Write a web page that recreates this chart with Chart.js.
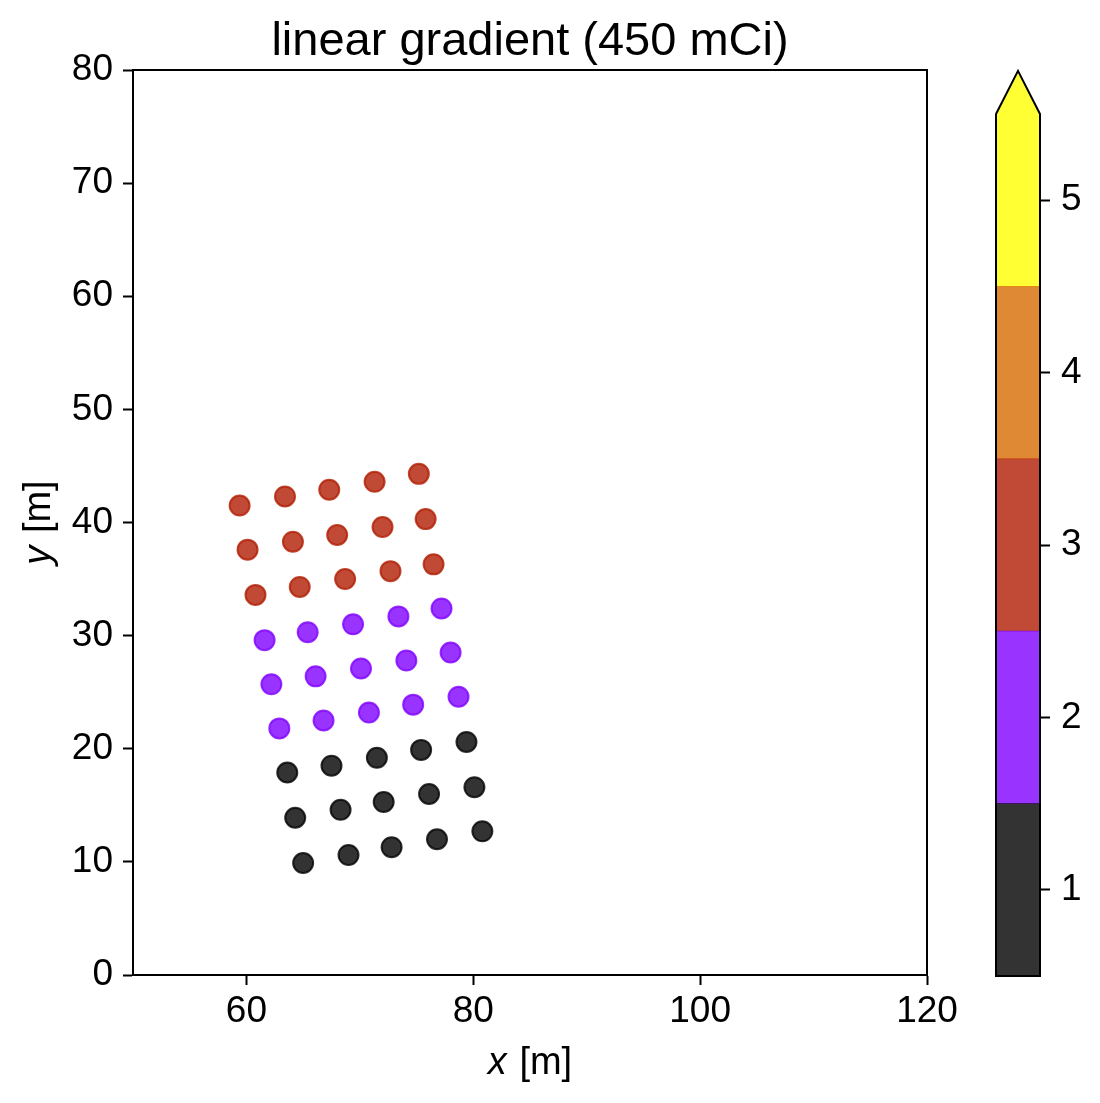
<!DOCTYPE html>
<html>
<head>
<meta charset="utf-8">
<script src="https://cdn.jsdelivr.net/npm/chart.js@4.4.0/dist/chart.umd.min.js"></script>
<style>
  html, body { margin: 0; padding: 0; background: #fff; }
  #wrap { position: relative; width: 1100px; height: 1103px; }
  #main { position: absolute; left: 0; top: 0; }
  #cbar { position: absolute; left: 956px; top: 0; }
</style>
</head>
<body>
<div id="wrap">
  <canvas id="main" width="1100" height="1103"></canvas>
  <canvas id="cbar" width="144" height="1103"></canvas>
</div>
<script>
// source positions in metres (9 rows x 5 columns)
const posX = [
  59.4, 63.4, 67.3, 71.3, 75.2,
  60.1, 64.1, 68.0, 72.0, 75.8,
  60.8, 64.7, 68.7, 72.7, 76.5,
  61.6, 65.4, 69.4, 73.4, 77.2,
  62.2, 66.1, 70.1, 74.1, 78.0,
  62.9, 66.8, 70.8, 74.7, 78.7,
  63.6, 67.5, 71.5, 75.4, 79.4,
  64.3, 68.3, 72.1, 76.1, 80.1,
  65.0, 69.0, 72.8, 76.8, 80.8
];
const posY = [
  41.5, 42.3, 42.9, 43.6, 44.3,
  37.6, 38.3, 38.9, 39.6, 40.3,
  33.6, 34.3, 35.0, 35.7, 36.3,
  29.6, 30.3, 31.0, 31.7, 32.4,
  25.7, 26.4, 27.1, 27.8, 28.5,
  21.8, 22.5, 23.2, 23.9, 24.6,
  17.9, 18.5, 19.2, 19.9, 20.6,
  13.9, 14.6, 15.3, 16.0, 16.6,
  9.9, 10.6, 11.3, 12.0, 12.7
];
// colour level of each source
const activity = [
  3, 3, 3, 3, 3,
  3, 3, 3, 3, 3,
  3, 3, 3, 3, 3,
  2, 2, 2, 2, 2,
  2, 2, 2, 2, 2,
  2, 2, 2, 2, 2,
  1, 1, 1, 1, 1,
  1, 1, 1, 1, 1,
  1, 1, 1, 1, 1
];

const xTicks = [60, 80, 100, 120];
const yTicks = [0, 10, 20, 30, 40, 50, 60, 70, 80];
const levelTicks = [1, 2, 3, 4, 5];
const levelBounds = [0.5, 1.5, 2.5, 3.5, 4.5, 5.5];
const levelRgb = ['0,0,0', '128,0,255', '176,29,3', '216,108,3', '255,255,0'];

const FONT = "'Liberation Sans', Arial, sans-serif";
Chart.defaults.font.family = FONT;
Chart.defaults.color = '#000';

function rgba(i, a) {
  return 'rgba(' + levelRgb[i] + ',' + a + ')';
}

function fixTicks(list) {
  return s => { s.ticks = list.map(v => ({ value: v })); };
}

function labelWithItalic(ctx, v, rest, cx, y) {
  ctx.font = 'italic 38px ' + FONT;
  const w1 = ctx.measureText(v).width + 2;
  ctx.font = '38px ' + FONT;
  const w2 = ctx.measureText(rest).width;
  const x = cx - (w1 + w2) / 2;
  ctx.textAlign = 'left';
  ctx.textBaseline = 'alphabetic';
  ctx.font = 'italic 38px ' + FONT;
  ctx.fillText(v, x, y);
  ctx.font = '38px ' + FONT;
  ctx.fillText(rest, x + w1, y);
}

// box round the plot, title and axis labels
const frame = {
  id: 'frame',
  afterDraw(chart) {
    const ctx = chart.ctx;
    const a = chart.chartArea;
    ctx.save();
    ctx.strokeStyle = '#000';
    ctx.lineWidth = 2;
    ctx.strokeRect(a.left, a.top, a.right - a.left, a.bottom - a.top);
    ctx.fillStyle = '#000';
    ctx.font = '47px ' + FONT;
    ctx.textAlign = 'center';
    ctx.textBaseline = 'alphabetic';
    ctx.fillText('linear gradient (450 mCi)', (a.left + a.right) / 2, 55);
    labelWithItalic(ctx, 'x', ' [m]', (a.left + a.right) / 2, 1074);
    ctx.translate(50, (a.top + a.bottom) / 2);
    ctx.rotate(-Math.PI / 2);
    labelWithItalic(ctx, 'y', ' [m]', 0, 0);
    ctx.restore();
  }
};

const axisGrid = { drawOnChartArea: false, tickLength: 10, tickWidth: 2, tickColor: '#000', color: '#000' };

new Chart(document.getElementById('main'), {
  type: 'scatter',
  data: {
    datasets: [{
      data: posX.map((x, i) => ({ x: x, y: posY[i] })),
      pointRadius: 10,
      pointHoverRadius: 10,
      pointBorderWidth: 2,
      pointBackgroundColor: activity.map(v => rgba(levelTicks.indexOf(v), 0.8)),
      pointBorderColor: activity.map(v => rgba(levelTicks.indexOf(v), 0.8))
    }]
  },
  options: {
    responsive: false,
    animation: false,
    events: [],
    layout: { padding: { top: 70, right: 173, left: 0, bottom: 0 } },
    plugins: { legend: { display: false }, tooltip: { enabled: false } },
    scales: {
      x: {
        type: 'linear', min: 50, max: 120,
        afterBuildTicks: fixTicks(xTicks),
        afterFit: s => { s.height = 128; },
        grid: axisGrid,
        border: { color: '#000', width: 2 },
        ticks: { font: { size: 37 }, color: '#000', padding: 5, maxRotation: 0 }
      },
      y: {
        type: 'linear', min: 0, max: 80,
        afterBuildTicks: fixTicks(yTicks),
        afterFit: s => { s.width = 133; },
        grid: axisGrid,
        border: { color: '#000', width: 2 },
        ticks: { font: { size: 37 }, color: '#000', padding: 10 }
      }
    }
  },
  plugins: [frame]
});

// colorbar outline and the "extend max" triangle
const cbOutline = {
  id: 'cbOutline',
  afterDraw(chart) {
    const ctx = chart.ctx;
    const a = chart.chartArea;
    const ys = chart.scales.y;
    const top = ys.getPixelForValue(levelBounds[levelBounds.length - 1]);
    const bottom = ys.getPixelForValue(levelBounds[0]);
    const tip = top - 0.05 * (bottom - top);
    const mid = (a.left + a.right) / 2;
    ctx.save();
    ctx.fillStyle = rgba(levelRgb.length - 1, 0.8);
    ctx.beginPath();
    ctx.moveTo(a.left, top);
    ctx.lineTo(mid, tip);
    ctx.lineTo(a.right, top);
    ctx.closePath();
    ctx.fill();
    ctx.strokeStyle = '#000';
    ctx.lineWidth = 2;
    ctx.beginPath();
    ctx.moveTo(a.left, bottom);
    ctx.lineTo(a.left, top);
    ctx.lineTo(mid, tip);
    ctx.lineTo(a.right, top);
    ctx.lineTo(a.right, bottom);
    ctx.closePath();
    ctx.stroke();
    ctx.restore();
  }
};

new Chart(document.getElementById('cbar'), {
  type: 'bar',
  data: {
    labels: [''],
    datasets: levelTicks.map((v, i) => ({
      data: [[levelBounds[i], levelBounds[i + 1]]],
      backgroundColor: rgba(i, 0.8),
      borderWidth: 0,
      barPercentage: 1,
      categoryPercentage: 1,
      grouped: false
    }))
  },
  options: {
    responsive: false,
    animation: false,
    events: [],
    layout: { padding: { left: 40, top: 114, bottom: 127, right: 0 } },
    plugins: { legend: { display: false }, tooltip: { enabled: false } },
    scales: {
      x: { display: false },
      y: {
        position: 'right', min: 0.5, max: 5.5,
        afterBuildTicks: fixTicks(levelTicks),
        afterFit: s => { s.width = 60; },
        grid: axisGrid,
        border: { display: false },
        ticks: { font: { size: 37 }, color: '#000', padding: 11 }
      }
    }
  },
  plugins: [cbOutline]
});
</script>
</body>
</html>
